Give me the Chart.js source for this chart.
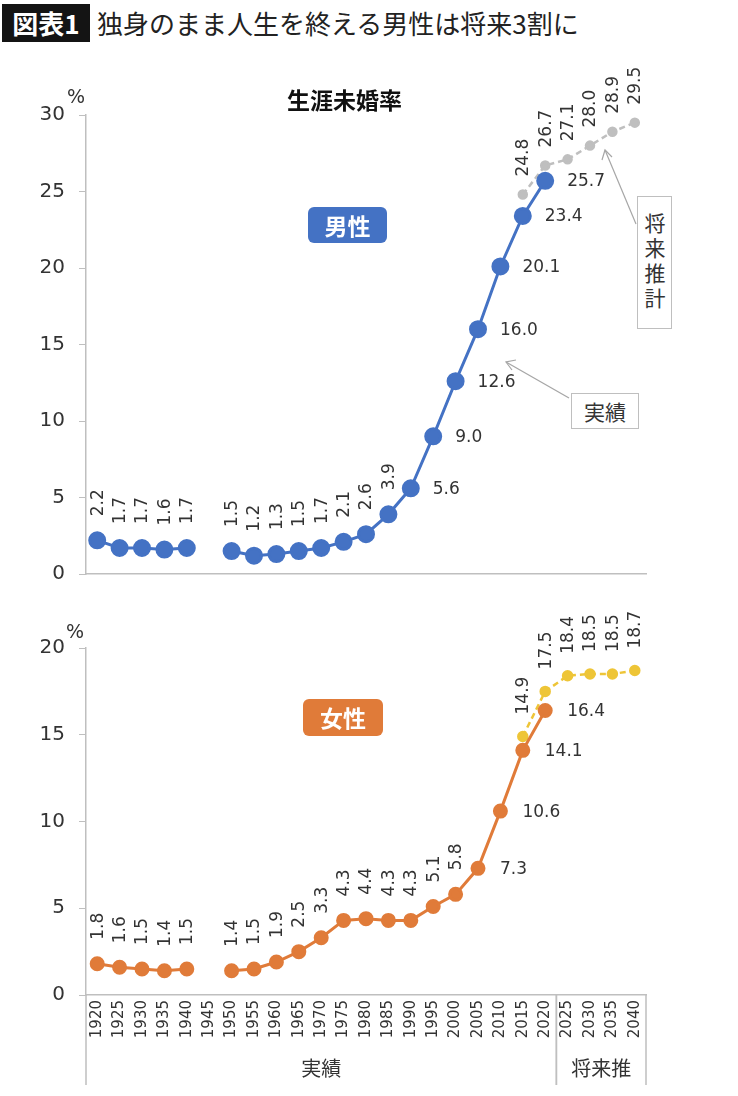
<!DOCTYPE html>
<html lang="ja">
<head>
<meta charset="utf-8">
<script src="https://cdn.jsdelivr.net/npm/chart.js@4.4.1/dist/chart.umd.min.js"></script>
<style>
  body { margin: 0; width: 738px; height: 1096px; background: #fff; position: relative; overflow: hidden;
         font-family: "Noto Sans CJK JP", sans-serif; color: #333; }
  .abs { position: absolute; }
  #tag { left: 2px; top: 4px; width: 88px; height: 38px; background: #141414; color: #fff;
         font-weight: bold; font-size: 26px; line-height: 38px; text-align: center; }
  #title { left: 97px; top: 4px; font-size: 26px; line-height: 38px; color: #222; }
  #subtitle { left: 287px; top: 82px; font-size: 23px; font-weight: bold; color: #111; }
  .pct { font-family: "DejaVu Sans", sans-serif; font-size: 19px; color: #333; }
  .sex { color: #fff; font-weight: bold; font-size: 23px; text-align: center; border-radius: 6px; }
  #male { left: 308px; top: 207px; width: 79px; height: 36px; line-height: 36px; background: #4472C4; }
  #female { left: 303px; top: 699px; width: 80px; height: 37px; line-height: 37px; background: #E07B39; }
  .note { background: #fff; border: 1px solid #BFBFBF; font-size: 21px; color: #333; text-align: center; }
  #noteActual { left: 571px; top: 393px; width: 66px; height: 34px; line-height: 34px; }
  #noteFuture { left: 637px; top: 196px; width: 33px; height: 131px; writing-mode: vertical-rl;
                line-height: 33px; letter-spacing: 4px; }
  canvas { position: absolute; left: 0; }
  #maleChart { top: 60px; }
  #femaleChart { top: 596px; }
</style>
</head>
<body>
<div id="tag" class="abs">図表1</div>
<div id="title" class="abs">独身のまま人生を終える男性は将来3割に</div>

<canvas id="maleChart" width="738" height="540" style="width:738px;height:540px"></canvas>
<canvas id="femaleChart" width="738" height="500" style="width:738px;height:500px"></canvas>

<div id="subtitle" class="abs">生涯未婚率</div>
<div class="abs pct" style="left:67px;top:85px">%</div>
<div class="abs pct" style="left:66px;top:620px">%</div>
<div id="male" class="abs sex">男性</div>
<div id="female" class="abs sex">女性</div>

<svg class="abs" style="left:0;top:0" width="738" height="600">
  <g stroke="#A6A6A6" stroke-width="1.2" fill="none">
    <line x1="569" y1="398" x2="506" y2="362"/>
    <polyline points="516,360 506,362 512,370"/>
    <line x1="636" y1="224" x2="605" y2="150"/>
    <polyline points="602,160 605,150 612,157"/>
  </g>
</svg>
<div id="noteActual" class="abs note">実績</div>
<div id="noteFuture" class="abs note">将来推計</div>

<script>
const years = ['1920', '1925', '1930', '1935', '1940', '1945', '1950', '1955', '1960', '1965',
               '1970', '1975', '1980', '1985', '1990', '1995', '2000', '2005', '2010', '2015',
               '2020', '2025', '2030', '2035', '2040'];

const maleActual = [2.2, 1.7, 1.7, 1.6, 1.7, null, 1.5, 1.2, 1.3, 1.5,
                    1.7, 2.1, 2.6, 3.9, 5.6, 9.0, 12.6, 16.0, 20.1, 23.4,
                    25.7, null, null, null, null];
const maleProjection = [null, null, null, null, null, null, null, null, null, null,
                        null, null, null, null, null, null, null, null, null, 24.8,
                        26.7, 27.1, 28.0, 28.9, 29.5];

const femaleActual = [1.8, 1.6, 1.5, 1.4, 1.5, null, 1.4, 1.5, 1.9, 2.5,
                      3.3, 4.3, 4.4, 4.3, 4.3, 5.1, 5.8, 7.3, 10.6, 14.1,
                      16.4, null, null, null, null];
const femaleProjection = [null, null, null, null, null, null, null, null, null, null,
                          null, null, null, null, null, null, null, null, null, 14.9,
                          17.5, 18.4, 18.5, 18.5, 18.7];

const maleMax = 30;
const femaleMax = 20;
const tickStep = 5;

const periodGroups = [
    { label: '実績', first: '1920', last: '2020' },
    { label: '将来推', first: '2025', last: '2040' }
];

const numFont = '"DejaVu Sans", sans-serif';

// value labels: rotated above the point, or flat to the right from a given year on
const valueLabels = {
    id: 'valueLabels',
    afterDatasetsDraw(chart) {
        const ctx = chart.ctx;
        chart.data.datasets.forEach((ds, di) => {
            const meta = chart.getDatasetMeta(di);
            const rightFrom = ds.labelRightFrom ? years.indexOf(ds.labelRightFrom) : Infinity;
            meta.data.forEach((pt, i) => {
                const v = ds.data[i];
                if (v == null) return;
                const txt = v.toFixed(1);
                ctx.save();
                ctx.fillStyle = '#333';
                ctx.font = '17px ' + numFont;
                ctx.textBaseline = 'middle';
                ctx.textAlign = 'left';
                if (i >= rightFrom) {
                    ctx.fillText(txt, pt.x + 22, pt.y + 1);
                } else {
                    ctx.translate(pt.x + 1, pt.y - ds.labelGap);
                    ctx.rotate(-Math.PI / 2);
                    ctx.fillText(txt, 0, 0);
                }
                ctx.restore();
            });
        });
    }
};

// two-level category axis under the lower chart
const periodAxis = {
    id: 'periodAxis',
    afterDraw(chart) {
        const x = chart.scales.x;
        if (!chart.options.plugins.periodAxis.show) return;
        const ctx = chart.ctx;
        const half = (x.getPixelForValue(1) - x.getPixelForValue(0)) / 2;
        const top = x.top;
        const bottom = chart.height - 11;
        ctx.save();
        ctx.strokeStyle = '#BFBFBF';
        ctx.lineWidth = 1.5;
        periodGroups.forEach(g => {
            const a = x.getPixelForValue(years.indexOf(g.first)) - half;
            const b = x.getPixelForValue(years.indexOf(g.last)) + half;
            ctx.beginPath();
            ctx.moveTo(a, top); ctx.lineTo(a, bottom);
            ctx.moveTo(b, top); ctx.lineTo(b, bottom);
            ctx.stroke();
            ctx.fillStyle = '#333';
            ctx.font = '20px "Noto Sans CJK JP", sans-serif';
            ctx.textAlign = 'center';
            ctx.textBaseline = 'middle';
            ctx.fillText(g.label, (a + b) / 2, chart.height - 28);
        });
        ctx.restore();
    }
};

function makeChart(id, cfg) {
    return new Chart(document.getElementById(id), {
        type: 'line',
        data: {
            labels: years,
            datasets: [
                {
                    data: cfg.actual,
                    borderColor: cfg.color,
                    backgroundColor: cfg.color,
                    pointBackgroundColor: cfg.color,
                    pointBorderColor: cfg.color,
                    borderWidth: 3,
                    pointRadius: cfg.pointRadius,
                    spanGaps: false,
                    labelGap: cfg.labelGap,
                    labelRightFrom: cfg.rightFrom
                },
                {
                    data: cfg.projection,
                    borderColor: cfg.projColor,
                    backgroundColor: cfg.projColor,
                    pointBackgroundColor: cfg.projColor,
                    pointBorderColor: cfg.projColor,
                    borderWidth: 2.5,
                    borderDash: [6, 4],
                    pointRadius: cfg.projRadius,
                    labelGap: cfg.projGap
                }
            ]
        },
        options: {
            responsive: false,
            animation: false,
            layout: { padding: { top: cfg.padTop, right: 92, left: 0, bottom: 0 } },
            plugins: {
                legend: { display: false },
                tooltip: { enabled: false },
                periodAxis: { show: cfg.showYears }
            },
            scales: {
                x: {
                    offset: true,
                    grid: { display: false, drawTicks: false },
                    border: { color: '#BFBFBF', width: 1.5 },
                    ticks: {
                        display: cfg.showYears,
                        autoSkip: false,
                        minRotation: 90,
                        maxRotation: 90,
                        padding: 5,
                        color: '#333',
                        font: { family: numFont, size: 15 }
                    },
                    afterFit: s => { s.height = cfg.xHeight; }
                },
                y: {
                    min: 0,
                    max: cfg.max,
                    grid: { display: true, drawOnChartArea: false, drawTicks: true, tickLength: 7, color: '#BFBFBF' },
                    border: { color: '#BFBFBF', width: 1.5 },
                    ticks: {
                        stepSize: tickStep,
                        padding: 14,
                        color: '#333',
                        font: { family: numFont, size: 20 }
                    },
                    afterFit: s => { s.width = 86; }
                }
            }
        },
        plugins: [valueLabels, periodAxis]
    });
}

makeChart('maleChart', {
    actual: maleActual,
    projection: maleProjection,
    color: '#4472C4',
    projColor: '#BFBFBF',
    pointRadius: 7.5,
    projRadius: 4,
    labelGap: 24,
    projGap: 18,
    rightFrom: '1990',
    max: maleMax,
    padTop: 55,
    xHeight: 8,
    showYears: false
});

makeChart('femaleChart', {
    actual: femaleActual,
    projection: femaleProjection,
    color: '#E07B39',
    projColor: '#EEC537',
    pointRadius: 6,
    projRadius: 4.5,
    labelGap: 24,
    projGap: 22,
    rightFrom: '2005',
    max: femaleMax,
    padTop: 52,
    xHeight: 101,
    showYears: true
});
</script>
</body>
</html>
